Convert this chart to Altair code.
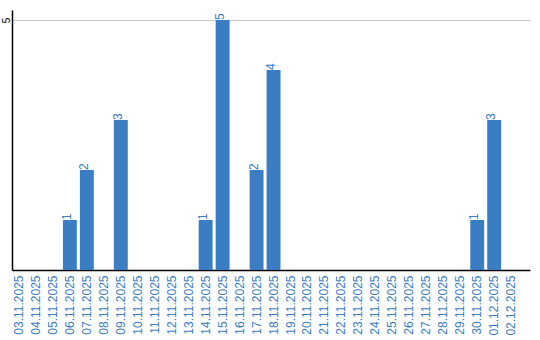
import altair as alt
import pandas as pd

dates = ["03.11.2025", "04.11.2025", "05.11.2025", "06.11.2025", "07.11.2025",
         "08.11.2025", "09.11.2025", "10.11.2025", "11.11.2025", "12.11.2025",
         "13.11.2025", "14.11.2025", "15.11.2025", "16.11.2025", "17.11.2025",
         "18.11.2025", "19.11.2025", "20.11.2025", "21.11.2025", "22.11.2025",
         "23.11.2025", "24.11.2025", "25.11.2025", "26.11.2025", "27.11.2025",
         "28.11.2025", "29.11.2025", "30.11.2025", "01.12.2025", "02.12.2025"]
counts = [0, 0, 0, 1, 2, 0, 3, 0, 0, 0, 0, 1, 5, 0, 2, 4, 0, 0, 0, 0,
          0, 0, 0, 0, 0, 0, 0, 1, 3, 0]

df = pd.DataFrame({"date": dates, "count": counts})

BLUE = "#3b7dc3"
FONT = "Liberation Sans"

x = alt.X("date:N", sort=dates, title=None,
          scale=alt.Scale(paddingInner=0.18, paddingOuter=0.35, align=0),
          axis=alt.Axis(labelAngle=-90, labelColor=BLUE, labelFont=FONT,
                        labelFontSize=12, ticks=False, labelPadding=5,
                        domainColor="#000000", domainWidth=1.5, grid=False))
y = alt.Y("count:Q", title=None,
          scale=alt.Scale(domain=[0, 5.2], nice=False),
          axis=alt.Axis(values=[5], labelAngle=-90, labelColor="#000000",
                        labelFont=FONT, labelFontSize=10, ticks=False,
                        labelPadding=1, domainColor="#000000", domainWidth=1.5,
                        grid=True, gridColor="#cccccc", labelAlign="center",
                        labelBaseline="bottom"))

bars = alt.Chart(df).mark_bar(color=BLUE).encode(x=x, y=y)
labels = alt.Chart(df).transform_filter("datum.count > 0").mark_text(
    angle=270, align="left", baseline="middle", dx=0, dy=-3,
    color=BLUE, font=FONT, fontSize=12
).encode(x=x, y=y, text="count:Q")

chart = (bars + labels).properties(
    width=518, height=260,
    background="#ffffff",
    autosize=alt.AutoSizeParams(type="none"),
    padding={"left": 12, "top": 10, "right": 10, "bottom": 70},
).configure_view(stroke=None, strokeWidth=0)

chart.save("out.html", embed_options={"renderer": "svg", "actions": False})
